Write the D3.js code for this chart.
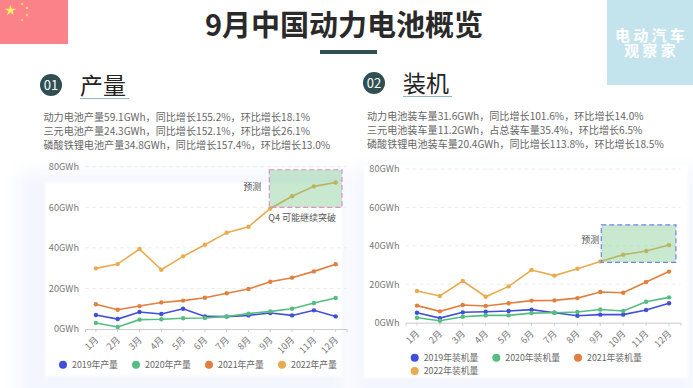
<!DOCTYPE html>
<html>
<head>
<meta charset="utf-8">
<script src="https://d3js.org/d3.v7.min.js"></script>
<style>
  html, body { margin: 0; padding: 0; background: #fff; }
  svg { display: block; }
  text { font-family: "Noto Sans CJK SC", "Noto Sans", sans-serif; }
</style>
</head>
<body>
<svg id="chart" width="693" height="388"></svg>
<script>
const months = ["1月","2月","3月","4月","5月","6月","7月","8月","9月","10月","11月","12月"];
const yTicks = [0, 20, 40, 60, 80];

const prod2019 = [6.9,4.9,8.4,7.4,10,6.2,6.1,6.7,7.9,6.7,9.2,6.2];
const prod2020 = [3,1,4.6,4.8,5.3,5.4,6.2,7.6,8.7,10,12.8,15.3];
const prod2021 = [12.2,9.5,11.3,13.1,14,15.4,17.6,19.7,23.3,25.3,28.4,31.9];
const prod2022 = [29.9,32,39.4,29.2,35.8,41.5,47.5,50.4,59.4,65.4,70.3,72.2];

const inst2019 = [5.2,2.4,5.4,5.7,6.1,6.8,5.2,3.6,4.2,4.2,6.6,10.1];
const inst2020 = [2.6,1,3.1,3.8,3.8,5,5.2,5.6,6.9,6.1,10.9,13.2];
const inst2021 = [8.9,5.9,9.2,8.7,10.1,11.5,11.6,12.8,16,15.6,21.2,26.6];
const inst2022 = [16.5,13.9,21.7,13.5,18.9,27.4,24.5,28.1,31.9,35.4,37.3,40.4];

const prodNames = ["2019年产量","2020年产量","2021年产量","2022年产量"];
const instNames = ["2019年装机量","2020年装机量","2021年装机量","2022年装机量"];
const colors = ["#3f4fd8","#55bd7f","#e27f3e","#e9ab4f"];

const prodText = [
  "动力电池产量59.1GWh，同比增长155.2%，环比增长18.1%",
  "三元电池产量24.3GWh，同比增长152.1%，环比增长26.1%",
  "磷酸铁锂电池产量34.8GWh，同比增长157.4%，环比增长13.0%"
];
const instText = [
  "动力电池装车量31.6GWh，同比增长101.6%，环比增长14.0%",
  "三元电池装车量11.2GWh，占总装车量35.4%，环比增长6.5%",
  "磷酸铁锂电池装车量20.4GWh，同比增长113.8%，环比增长18.5%"
];

const svg = d3.select("#chart");
const defs = svg.append("defs");
defs.append("filter").attr("id", "soft")
  .attr("x", "-20%").attr("y", "-20%").attr("width", "140%").attr("height", "140%")
  .append("feGaussianBlur").attr("stdDeviation", 9);
defs.append("filter").attr("id", "edge")
  .append("feGaussianBlur").attr("stdDeviation", 1);

// pale panels behind the two charts
[[18, 172, 330, 240], [352, 168, 345, 240]].forEach(p => {
  svg.append("rect").attr("x", p[0]).attr("y", p[1]).attr("width", p[2]).attr("height", p[3])
    .attr("fill", "#f3f6fd").attr("filter", "url(#soft)");
});
[[45, 183, 297, 193], [364, 165, 324, 213]].forEach(p => {
  svg.append("rect").attr("x", p[0]).attr("y", p[1]).attr("width", p[2]).attr("height", p[3])
    .attr("fill", "#fff").attr("filter", "url(#edge)");
});

// flag
svg.append("rect").attr("width", 68).attr("height", 44).attr("fill", "#fb8289");
const star = (cx, cy, r, rot) => {
  const pts = d3.range(10).map(i => {
    const a = rot + i * Math.PI / 5 - Math.PI / 2;
    const rr = i % 2 ? r * 0.38 : r;
    return [cx + rr * Math.cos(a), cy + rr * Math.sin(a)];
  });
  svg.append("polygon").attr("points", pts.join(" ")).attr("fill", "#ffe96b");
};
star(10.5, 10.5, 6, 0);
star(22, 4, 1.8, 0.5);
star(27, 8, 1.8, 0.9);
star(27, 15, 1.8, 0);
star(22, 20, 1.8, 0.5);

// logo block
svg.append("rect").attr("x", 607).attr("y", 0).attr("width", 86).attr("height", 85).attr("fill", "#c3e4ec");
svg.append("text").attr("x", 651.5).attr("y", 40.5).attr("text-anchor", "middle")
  .attr("font-size", 15).attr("letter-spacing", 3.3).attr("font-weight", 700).attr("fill", "#fff").text("电动汽车");
svg.append("text").attr("x", 651.5).attr("y", 56).attr("text-anchor", "middle")
  .attr("font-size", 15).attr("letter-spacing", 3.3).attr("font-weight", 700).attr("fill", "#fff").text("观察家");

// title
svg.append("text").attr("x", 344).attr("y", 36).attr("text-anchor", "middle")
  .attr("font-size", 29).attr("font-weight", 700).attr("fill", "#2a2a2a").text("9月中国动力电池概览");
svg.append("rect").attr("x", 320).attr("y", 50).attr("width", 57).attr("height", 4).attr("fill", "#2f4f52");

function header(cx, cy, num, label, tx, lines, textX, textY) {
  svg.append("circle").attr("cx", cx).attr("cy", cy).attr("r", 11).attr("fill", "#2f4f52");
  svg.append("text").attr("x", cx).attr("y", cy + 4.5).attr("text-anchor", "middle")
    .attr("font-size", 13).attr("fill", "#fff").text(num);
  svg.append("text").attr("x", tx).attr("y", cy + 9).attr("font-size", 23).attr("fill", "#222").text(label);
  svg.append("rect").attr("x", tx).attr("y", cy + 13).attr("width", 49).attr("height", 1).attr("fill", "#8fb8bc");
  svg.selectAll(null).data(lines).enter().append("text")
    .attr("x", textX).attr("y", (d, i) => textY + i * 14)
    .attr("font-size", 10.1).attr("fill", "#666").text(d => d);
}
header(51, 85, "01", "产量", 80, prodText, 43.5, 121);
header(374, 83, "02", "装机", 403, instText, 367, 120);

function drawChart(o) {
  const x = d3.scaleBand().domain(months).range([o.left, o.right]);
  const y = d3.scaleLinear().domain([0, 80]).range([o.bottom, o.top]);
  const g = svg.append("g");

  // grid
  g.selectAll(".grid").data(yTicks.slice(1)).enter().append("line")
    .attr("x1", o.left).attr("x2", o.right)
    .attr("y1", d => y(d)).attr("y2", d => y(d))
    .attr("stroke", "#ececec").attr("stroke-dasharray", "4 3");

  // axes
  const yAxis = g.append("g").attr("transform", `translate(${o.left},0)`)
    .call(d3.axisLeft(y).tickValues(yTicks).tickSize(0).tickPadding(6).tickFormat(d => d + "GWh"));
  yAxis.select(".domain").remove();
  yAxis.selectAll("text").attr("font-size", 9.2).attr("fill", "#777")
    .style("font-family", '"Noto Sans CJK SC", sans-serif');

  const xAxis = g.append("g").attr("transform", `translate(0,${o.bottom})`)
    .call(d3.axisBottom(x).tickSize(3));
  xAxis.select(".domain").attr("stroke", "#ccc");
  xAxis.selectAll("line").attr("stroke", "#ccc");
  xAxis.selectAll("text").attr("font-size", 9.2).attr("fill", "#777")
    .style("font-family", '"Noto Sans CJK SC", sans-serif')
    .attr("text-anchor", "end").attr("x", -6).attr("y", 7).attr("dy", "0.35em")
    .attr("transform", "rotate(-45)");

  // series
  const line = d3.line().x((d, i) => x(months[i]) + x.bandwidth() / 2).y(d => y(d));
  o.series.forEach((s, k) => {
    g.append("path").datum(s).attr("fill", "none").attr("stroke", colors[k])
      .attr("stroke-width", 1.6).attr("d", line);
    g.selectAll(null).data(s).enter().append("circle")
      .attr("cx", (d, i) => x(months[i]) + x.bandwidth() / 2)
      .attr("cy", d => y(d)).attr("r", 2.2).attr("fill", colors[k]);
  });

  // forecast band, over the lines
  const bx0 = x("9月") + x.bandwidth() / 2 + o.bandPad;
  const bx1 = x("12月") + x.bandwidth() - 4.6;
  const bandBox = sel => sel.attr("x", bx0).attr("y", y(o.band[1])).attr("width", bx1 - bx0)
    .attr("height", y(o.band[0]) - y(o.band[1]));
  g.append("rect").call(bandBox)
    .attr("fill", "rgb(110,195,130)").attr("fill-opacity", 0.38);
  g.append("rect").call(bandBox).attr("fill", "none")
    .attr("stroke", o.bandStroke).attr("stroke-width", 1.2).attr("stroke-dasharray", "5 3");

  // notes
  g.append("text").attr("x", bx0 - o.noteGap).attr("y", y(o.noteAt) + 3)
    .attr("text-anchor", "end").attr("font-size", 9).attr("fill", "#555").text("预测");
  if (o.below) {
    g.append("text").attr("x", bx0 - 1).attr("y", y(o.band[0]) + 14)
      .attr("font-size", 9).attr("fill", "#555").text(o.below);
  }

  // legend
  o.names.forEach((n, i) => {
    const p = o.legend[i];
    svg.append("circle").attr("cx", p[0]).attr("cy", p[1]).attr("r", 4).attr("fill", colors[i]);
    svg.append("text").attr("x", p[0] + 9).attr("y", p[1] + 3.2)
      .attr("font-size", 8.8).attr("fill", "#666").text(n);
  });
}

drawChart({
  left: 85, right: 346.6, top: 166.7, bottom: 329,
  series: [prod2019, prod2020, prod2021, prod2022], names: prodNames,
  band: [60, 78.5], bandStroke: "#dc8fc4", bandPad: -1, noteAt: 70.2, noteGap: 8, below: "Q4 可能继续突破",
  legend: [[63, 364.7], [136, 364.7], [209, 364.7], [282, 364.7]]
});
drawChart({
  left: 405.5, right: 680.5, top: 169, bottom: 322.7,
  series: [inst2019, inst2020, inst2021, inst2022], names: instNames,
  band: [31.4, 50.9], bandStroke: "#6f82ea", bandPad: 1, noteAt: 43, noteGap: 2,
  legend: [[414.7, 357.7], [496.3, 357.7], [578, 357.7], [414.7, 371]]
});
</script>
</body>
</html>
